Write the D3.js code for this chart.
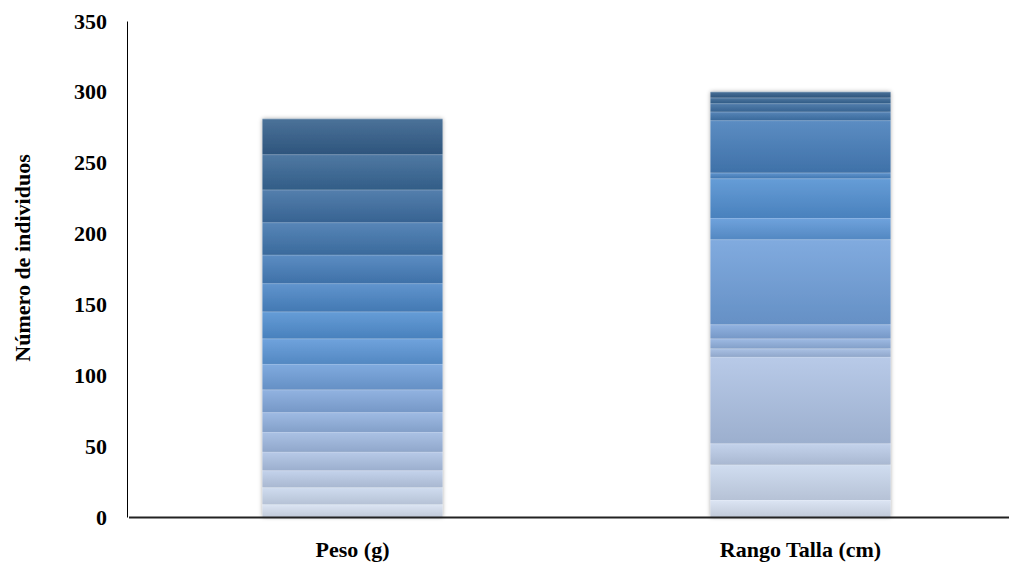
<!DOCTYPE html>
<html>
<head>
<meta charset="utf-8">
<script src="https://cdn.jsdelivr.net/npm/d3@7"></script>
<style>
  html, body { margin: 0; padding: 0; background: #ffffff; }
  svg { display: block; }
</style>
</head>
<body>
<svg id="chart" width="1009" height="563"></svg>
<script>
// Categories on the x axis
const categories = ["Peso (g)", "Rango Talla (cm)"];

// Number of individuals in each class, stacked from bottom to top
const pesoCounts  = [9, 12, 12, 13, 14, 14, 16, 18, 18, 19, 20, 20, 23, 23, 25, 25];
const tallaCounts = [12, 25, 15, 61, 6, 7, 10, 60, 15, 28, 4, 37, 6, 6, 4, 4];

// Y axis ticks
const yTicks = [0, 50, 100, 150, 200, 250, 300, 350];
const yTitle = "Número de individuos";

// Class colours, light (first class) to dark (last class)
const palette = [
  "#d7e1f2", "#cad8ee", "#bccde9", "#aec3e5", "#a0bae2", "#92b2e0",
  "#83a9dd", "#70a0db", "#5c97d8", "#5190d2", "#4b87c7", "#467ebb",
  "#4176ae", "#3d6ea2", "#386796", "#335f8b"
];

const W = 1009, H = 563;
const svg = d3.select("#chart");
const serif = "'Liberation Serif', 'Times New Roman', serif";

const y = d3.scaleLinear().domain([0, 350]).range([517, 21]);
const x = d3.scaleBand()
  .domain(categories)
  .range([128.5, 1024.5])
  .paddingInner(0.598)
  .paddingOuter(0.299);

const counts = { [categories[0]]: pesoCounts, [categories[1]]: tallaCounts };
const nSeries = pesoCounts.length;
const keys = d3.range(nSeries).map(i => "c" + i);
const rows = categories.map(cat => {
  const r = { cat };
  counts[cat].forEach((v, i) => r["c" + i] = v);
  return r;
});
const stacked = d3.stack().keys(keys)(rows);

const defs = svg.append("defs");
keys.forEach((k, i) => {
  const base = d3.color(palette[i]);
  const g = defs.append("linearGradient")
    .attr("id", "grad" + i)
    .attr("x1", 0).attr("y1", 0).attr("x2", 0).attr("y2", 1);
  g.append("stop").attr("offset", "0%").attr("stop-color", d3.interpolateRgb(base, "#ffffff")(0.12));
  g.append("stop").attr("offset", "100%").attr("stop-color", base.darker(0.3));
});

const shadow = defs.append("filter").attr("id", "barShadow")
  .attr("x", "-10%").attr("y", "-10%").attr("width", "120%").attr("height", "120%");
shadow.append("feDropShadow")
  .attr("dx", 0).attr("dy", 0).attr("stdDeviation", 2)
  .attr("flood-color", "#000").attr("flood-opacity", 0.35);

// Stacked bars
const bars = svg.append("g").attr("filter", "url(#barShadow)");
stacked.forEach((layer, i) => {
  const g = bars.append("g");
  g.selectAll("rect.seg").data(layer).join("rect")
    .attr("class", "seg")
    .attr("x", d => x(d.data.cat))
    .attr("width", x.bandwidth())
    .attr("y", d => y(d[1]))
    .attr("height", d => y(d[0]) - y(d[1]))
    .attr("fill", "url(#grad" + i + ")");
  g.selectAll("rect.edge").data(layer).join("rect")
    .attr("class", "edge")
    .attr("x", d => x(d.data.cat))
    .attr("width", x.bandwidth())
    .attr("y", d => y(d[1]))
    .attr("height", 1)
    .attr("fill", "#ffffff")
    .attr("opacity", 0.18);
});

// Y axis
const yAxis = svg.append("g")
  .attr("transform", "translate(127,0)")
  .call(d3.axisLeft(y).tickValues(yTicks).tickSize(0).tickPadding(20));
yAxis.select(".domain").attr("stroke", "#000").attr("stroke-width", 1);
yAxis.selectAll("text")
  .attr("font-family", serif)
  .attr("font-weight", "bold")
  .attr("font-size", 22)
  .attr("fill", "#000");

// X axis
const xAxis = svg.append("g")
  .attr("transform", "translate(0,517)")
  .call(d3.axisBottom(x).tickSize(0).tickPadding(24));
xAxis.select(".domain").attr("stroke", "#222").attr("stroke-width", 2);
xAxis.selectAll("text")
  .attr("font-family", serif)
  .attr("font-weight", "bold")
  .attr("font-size", 22)
  .attr("fill", "#000");

// Y axis title
svg.append("text")
  .attr("transform", "translate(30,258) rotate(-90)")
  .attr("text-anchor", "middle")
  .attr("font-family", serif)
  .attr("font-weight", "bold")
  .attr("font-size", 22)
  .attr("fill", "#000")
  .text(yTitle);
</script>
</body>
</html>
